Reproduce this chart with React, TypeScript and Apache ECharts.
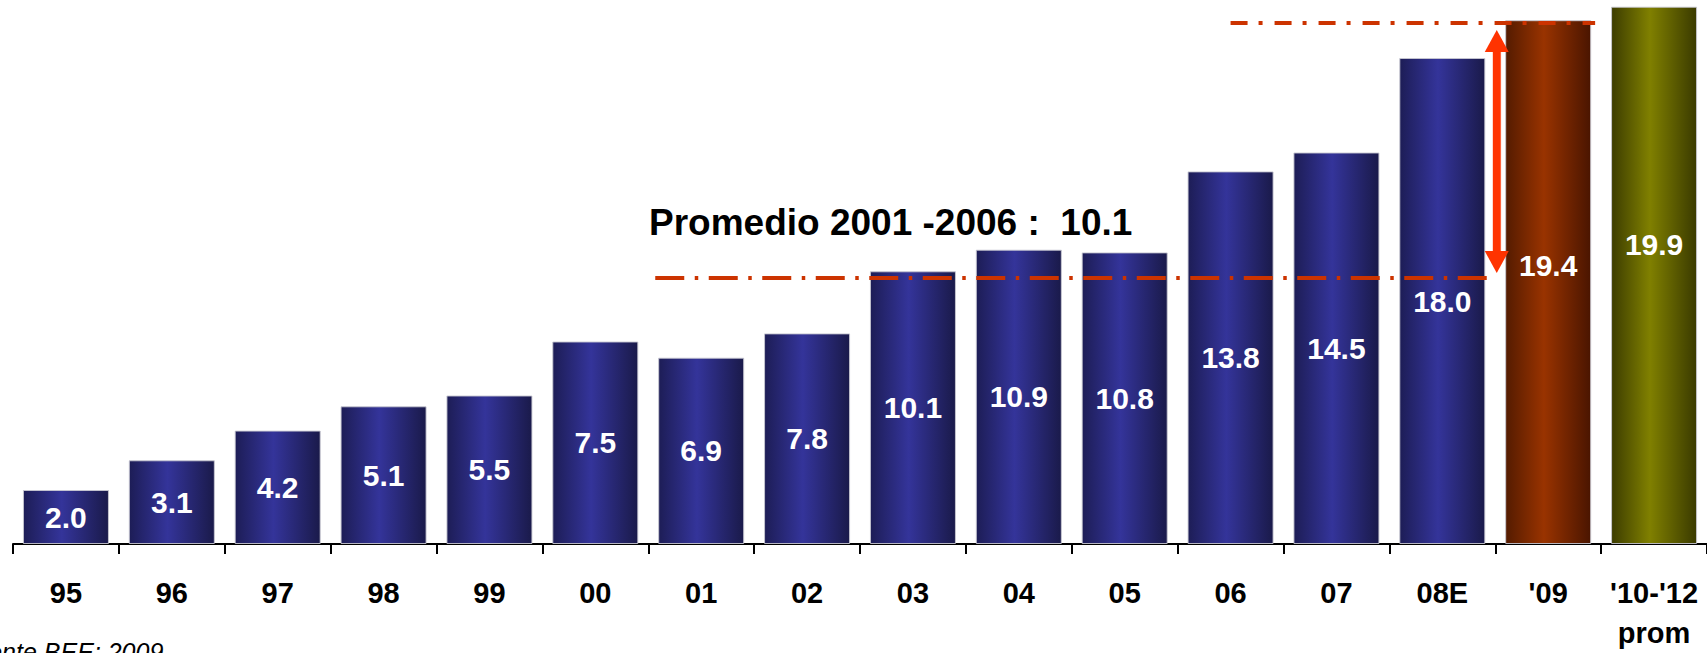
import React, { useEffect, useRef } from "react";
import * as echarts from "echarts";

const categories = ["95", "96", "97", "98", "99", "00", "01", "02", "03", "04", "05", "06", "07", "08E", "'09", "'10-'12\nprom"];
const values = [2.0, 3.1, 4.2, 5.1, 5.5, 7.5, 6.9, 7.8, 10.1, 10.9, 10.8, 13.8, 14.5, 18.0, 19.4, 19.9];
const barKinds = ["actual", "actual", "actual", "actual", "actual", "actual", "actual", "actual", "actual", "actual", "actual", "actual", "actual", "actual", "forecast", "average"];
const avgLabel = "Promedio 2001 -2006 :  10.1";
const avgLineValue = 9.85;
const topLineValue = 19.3;
const sourceText = "Fuente BEE; 2009";

const FONT = "Arial, 'Liberation Sans', sans-serif";

export default function App() {
  const ref = useRef<HTMLDivElement>(null);

  useEffect(() => {
    if (!ref.current) return;
    const chart = echarts.init(ref.current, null, { renderer: "svg" });
    const grad = (l: string, m: string, r: string) =>
      new echarts.graphic.LinearGradient(0, 0, 1, 0, [
        { offset: 0, color: l },
        { offset: 0.45, color: m },
        { offset: 1, color: r },
      ]);
    const palettes: Record<string, any> = {
      actual: grad("#1d1d56", "#34349a", "#1a1a4a"),
      forecast: grad("#541b00", "#993300", "#4a1500"),
      average: grad("#3c3c00", "#808000", "#3a3a00"),
    };
    const labelOffsets: Record<string, number[]> = {
      actual: [0, 0],
      forecast: [0, -17],
      average: [0, -31],
    };

    chart.setOption({
      animation: false,
      grid: { left: 13, right: -3, top: 4, bottom: 104, containLabel: false },
      xAxis: {
        type: "category",
        data: categories,
        axisLine: { show: true, lineStyle: { color: "#000", width: 2 } },
        axisTick: { show: true, length: 10, lineStyle: { color: "#000", width: 2 } },
        axisLabel: {
          interval: 0,
          color: "#000",
          fontSize: 29,
          fontWeight: "bold",
          fontFamily: FONT,
          lineHeight: 40,
          margin: 29,
        },
      },
      yAxis: { type: "value", min: 0, max: 20, show: false },
      series: [
        {
          type: "bar",
          barWidth: 86,
          data: values.map((v, i) => ({
            value: v,
            itemStyle: { color: palettes[barKinds[i]] },
            label: { offset: labelOffsets[barKinds[i]] },
          })),
          itemStyle: { borderColor: "rgba(200,200,210,0.9)", borderWidth: 1 },
          label: {
            show: true,
            position: "inside",
            formatter: (p: any) => Number(p.value).toFixed(1),
            color: "#fff",
            fontSize: 30,
            fontWeight: "bold",
            fontFamily: FONT,
          },
        },
      ],
    });

    const px = (i: number, v: number) => chart.convertToPixel({ gridIndex: 0 }, [i, v]) as number[];
    const center = (i: number) => px(i, 0)[0];
    const boundary = (i: number) => (center(i) + center(i + 1)) / 2;
    const yAvg = px(0, avgLineValue)[1];
    const yTop = px(0, topLineValue)[1];
    const lowX0 = boundary(5) + 7;
    const lowX1 = boundary(13) + 2;
    const topX0 = center(11);
    const topX1 = boundary(14) - 6;
    const ax = boundary(13) + 1.5;
    const tipTop = yTop + 7;
    const tipBot = yAvg - 5;
    const headH = 22;
    const headW = 24;
    const red = "#ff3300";
    const lineRed = "#cc3300";

    chart.setOption({
      graphic: [
        {
          type: "line",
          z: 100,
          shape: { x1: lowX0, y1: yAvg, x2: lowX1, y2: yAvg },
          style: { stroke: lineRed, lineWidth: 4, lineDash: [29, 10.5, 3.5, 10.5] },
        },
        {
          type: "line",
          z: 100,
          shape: { x1: topX0, y1: yTop, x2: topX1, y2: yTop },
          style: { stroke: lineRed, lineWidth: 4, lineDash: [17, 11, 4, 12] },
        },
        {
          type: "rect",
          z: 101,
          shape: { x: ax - 4.5, y: tipTop + headH - 2, width: 9, height: tipBot - tipTop - 2 * headH + 4 },
          style: { fill: red, stroke: "#ffffff", lineWidth: 1 },
        },
        {
          type: "polygon",
          z: 102,
          shape: { points: [[ax, tipTop], [ax - headW / 2, tipTop + headH], [ax + headW / 2, tipTop + headH]] },
          style: { fill: red },
        },
        {
          type: "polygon",
          z: 102,
          shape: { points: [[ax, tipBot], [ax - headW / 2, tipBot - headH], [ax + headW / 2, tipBot - headH]] },
          style: { fill: red },
        },
        {
          type: "text",
          z: 103,
          x: 649,
          y: 222,
          style: {
            text: avgLabel,
            fill: "#000",
            font: `bold 37px ${FONT}`,
            verticalAlign: "middle",
            align: "left",
          },
        },
        {
          type: "text",
          z: 103,
          x: -41,
          y: 652,
          style: {
            text: sourceText,
            fill: "#000",
            font: `italic 25px ${FONT}`,
            verticalAlign: "middle",
            align: "left",
          },
        },
      ],
    });

    return () => chart.dispose();
  }, []);

  return (
    <div
      ref={ref}
      style={{ position: "fixed", left: 0, top: 0, width: 1707, height: 653, background: "#fff" }}
    />
  );
}
